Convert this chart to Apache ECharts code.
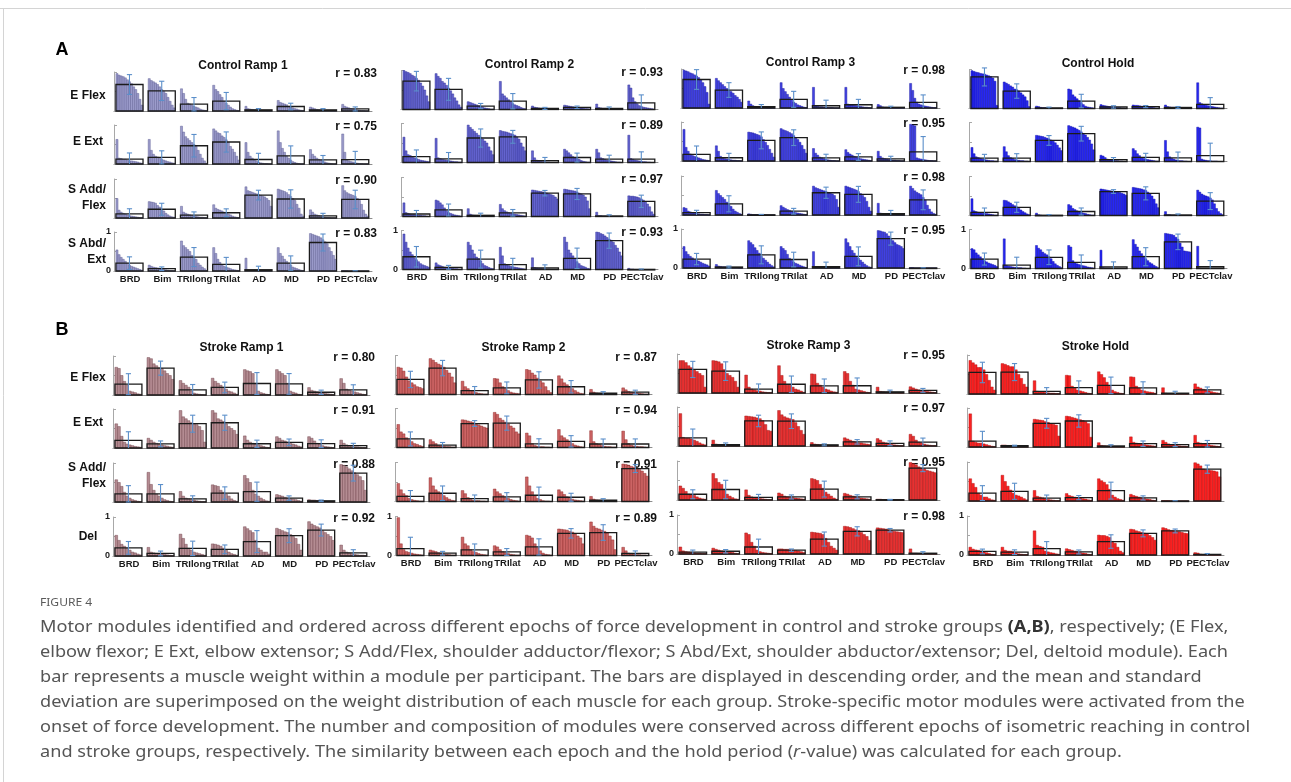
<!DOCTYPE html>
<html>
<head>
<meta charset="utf-8">
<title>Figure 4 – Motor modules</title>
<script src="https://cdn.jsdelivr.net/npm/echarts@6/dist/echarts.min.js"></script>
<style>
  html, body { margin: 0; padding: 0; background: #fff; }
  #chart { width: 1291px; height: 782px; }
</style>
</head>
<body>
<div id="chart"></div>
<script>
// ---------------------------------------------------------------------------
// Labels
// ---------------------------------------------------------------------------
const muscles = ['BRD', 'Bim', 'TRIlong', 'TRIlat', 'AD', 'MD', 'PD', 'PECTclav'];
const epochs = ['Ramp 1', 'Ramp 2', 'Ramp 3', 'Hold'];
const controlModules = ['E Flex', 'E Ext', 'S Add/\nFlex', 'S Abd/\nExt'];
const strokeModules = ['E Flex', 'E Ext', 'S Add/\nFlex', 'Del'];

// similarity of each ramp epoch with the hold period, per module
const rControl = [[0.83, 0.75, 0.90, 0.83], [0.93, 0.89, 0.97, 0.93], [0.98, 0.95, 0.98, 0.95]];
const rStroke = [[0.80, 0.91, 0.88, 0.92], [0.87, 0.94, 0.91, 0.89], [0.95, 0.97, 0.95, 0.98]];

// ---------------------------------------------------------------------------
// Muscle weights per participant (descending), one list per muscle
// ---------------------------------------------------------------------------
// Control – Ramp 1
const cR1_EFlex = [
  [0.96,0.92,0.90,0.88,0.85,0.80,0.75,0.70,0.62,0.55,0.45,0.30,0.15],
  [0.83,0.78,0.75,0.72,0.68,0.62,0.55,0.50,0.45,0.35,0.25,0.15,0.08],
  [0.57,0.45,0.30,0.20,0.18,0.15,0.12,0.10,0.08,0.05,0.03,0.02,0.01],
  [0.66,0.55,0.50,0.42,0.35,0.25,0.20,0.15,0.10,0.06,0.04,0.02,0.01],
  [0.12,0.06,0.05,0.04,0.03,0.03,0.02,0.02,0.01,0.01,0,0,0],
  [0.27,0.22,0.20,0.18,0.16,0.12,0.10,0.08,0.06,0.05,0.03,0.02,0.01],
  [0.10,0.08,0.06,0.04,0.03,0.02,0.02,0.01,0.01,0.01,0,0,0],
  [0.17,0.12,0.10,0.08,0.06,0.05,0.04,0.03,0.02,0.01,0.01,0,0]
];
const cR1_EExt = [
  [0.63,0.15,0.14,0.12,0.12,0.10,0.08,0.08,0.07,0.06,0.05,0.03,0.02],
  [0.63,0.35,0.25,0.20,0.18,0.15,0.12,0.10,0.08,0.06,0.05,0.03,0.02],
  [0.97,0.82,0.70,0.65,0.60,0.55,0.50,0.45,0.35,0.25,0.15,0.08,0.02],
  [0.90,0.85,0.80,0.78,0.72,0.68,0.62,0.55,0.45,0.38,0.30,0.20,0.10],
  [0.55,0.30,0.20,0.15,0.10,0.08,0.05,0.03,0.02,0.01,0.01,0,0],
  [0.85,0.55,0.40,0.30,0.20,0.15,0.10,0.06,0.04,0.02,0.01,0,0],
  [0.37,0.25,0.20,0.15,0.12,0.10,0.08,0.05,0.03,0.02,0.01,0,0],
  [0.77,0.30,0.10,0.08,0.06,0.05,0.03,0.02,0.01,0.01,0,0,0]
];
const cR1_SAddFlex = [
  [0.50,0.20,0.15,0.12,0.10,0.08,0.06,0.05,0.04,0.03,0.02,0.01,0.01],
  [0.42,0.41,0.40,0.38,0.32,0.28,0.22,0.18,0.12,0.08,0.05,0.03,0.02],
  [0.30,0.15,0.12,0.10,0.08,0.06,0.05,0.04,0.03,0.02,0.02,0.01,0],
  [0.34,0.25,0.22,0.20,0.18,0.15,0.12,0.10,0.08,0.05,0.03,0.02,0.01],
  [0.80,0.70,0.68,0.66,0.64,0.62,0.60,0.58,0.56,0.54,0.50,0.45,0.30],
  [0.74,0.72,0.70,0.68,0.65,0.60,0.55,0.50,0.45,0.35,0.25,0.10,0.05],
  [0.21,0.15,0.10,0.08,0.06,0.04,0.03,0.02,0.01,0.01,0,0,0],
  [0.83,0.70,0.65,0.62,0.60,0.58,0.55,0.50,0.45,0.35,0.20,0.10,0.05]
];
const cR1_SAbdExt = [
  [0.54,0.42,0.35,0.30,0.25,0.20,0.15,0.12,0.10,0.08,0.06,0.04,0.02],
  [0.15,0.12,0.10,0.09,0.08,0.06,0.05,0.04,0.03,0.02,0.01,0.01,0],
  [0.77,0.65,0.60,0.55,0.50,0.40,0.35,0.30,0.20,0.15,0.10,0.06,0.02],
  [0.60,0.45,0.30,0.22,0.15,0.12,0.10,0.08,0.06,0.04,0.03,0.02,0.01],
  [0.33,0.03,0.02,0.02,0.01,0.01,0.01,0,0,0,0,0,0],
  [0.60,0.45,0.38,0.30,0.25,0.20,0.15,0.10,0.08,0.06,0.04,0.02,0.01],
  [0.96,0.94,0.92,0.90,0.88,0.85,0.80,0.75,0.70,0.60,0.50,0.40,0.30],
  [0.01,0.01,0.01,0,0,0,0,0,0,0,0,0,0]
];
// Control – Ramp 2
const cR2_EFlex = [
  [1.00,0.97,0.95,0.92,0.88,0.85,0.80,0.75,0.68,0.60,0.50,0.35,0.20],
  [0.92,0.85,0.80,0.72,0.68,0.62,0.55,0.48,0.40,0.30,0.22,0.12,0.06],
  [0.20,0.18,0.16,0.14,0.12,0.10,0.08,0.06,0.04,0.03,0.02,0.01,0.01],
  [0.72,0.40,0.35,0.30,0.25,0.20,0.15,0.12,0.10,0.08,0.05,0.03,0.02],
  [0.09,0.06,0.05,0.04,0.03,0.03,0.02,0.02,0.01,0.01,0.01,0,0],
  [0.11,0.10,0.09,0.08,0.07,0.06,0.05,0.05,0.04,0.03,0.02,0.02,0.01],
  [0.14,0.05,0.04,0.03,0.03,0.02,0.02,0.01,0.01,0.01,0,0,0],
  [0.63,0.55,0.30,0.20,0.15,0.10,0.08,0.06,0.05,0.04,0.03,0.02,0.01]
];
const cR2_EExt = [
  [0.65,0.30,0.20,0.18,0.15,0.12,0.10,0.08,0.06,0.05,0.04,0.03,0.02],
  [0.62,0.12,0.10,0.08,0.07,0.06,0.05,0.04,0.03,0.02,0.02,0.01,0.01],
  [0.96,0.90,0.85,0.80,0.75,0.70,0.65,0.60,0.55,0.50,0.40,0.30,0.20],
  [0.82,0.80,0.79,0.78,0.76,0.74,0.72,0.70,0.65,0.60,0.50,0.40,0.30],
  [0.30,0.12,0.06,0.04,0.03,0.02,0.02,0.01,0.01,0,0,0,0],
  [0.34,0.30,0.25,0.20,0.15,0.12,0.10,0.08,0.05,0.03,0.02,0.01,0.01],
  [0.34,0.25,0.12,0.10,0.08,0.06,0.05,0.04,0.03,0.02,0.01,0.01,0],
  [0.70,0.10,0.08,0.06,0.05,0.04,0.03,0.02,0.02,0.01,0.01,0,0]
];
const cR2_SAddFlex = [
  [0.35,0.10,0.08,0.06,0.05,0.05,0.04,0.03,0.03,0.02,0.02,0.01,0],
  [0.42,0.40,0.35,0.30,0.22,0.15,0.10,0.08,0.06,0.04,0.03,0.02,0.01],
  [0.20,0.06,0.04,0.03,0.02,0.02,0.01,0.01,0.01,0,0,0,0],
  [0.31,0.20,0.15,0.12,0.10,0.08,0.07,0.06,0.05,0.04,0.03,0.02,0.01],
  [0.68,0.67,0.66,0.65,0.64,0.63,0.62,0.60,0.58,0.56,0.54,0.50,0.45],
  [0.70,0.69,0.68,0.67,0.66,0.65,0.63,0.60,0.58,0.55,0.50,0.40,0.20],
  [0.11,0.02,0.02,0.01,0.01,0.01,0.01,0,0,0,0,0,0],
  [0.53,0.52,0.52,0.51,0.50,0.48,0.45,0.42,0.38,0.32,0.25,0.12,0.06]
];
const cR2_SAbdExt = [
  [0.91,0.70,0.55,0.45,0.38,0.30,0.25,0.20,0.15,0.12,0.10,0.08,0.06],
  [0.17,0.12,0.10,0.08,0.06,0.05,0.04,0.03,0.03,0.02,0.02,0.01,0.01],
  [0.70,0.62,0.50,0.40,0.32,0.28,0.22,0.15,0.10,0.08,0.05,0.03,0.02],
  [0.57,0.35,0.15,0.12,0.10,0.08,0.07,0.06,0.05,0.04,0.03,0.02,0.01],
  [0.30,0.05,0.04,0.03,0.03,0.02,0.02,0.01,0.01,0,0,0,0],
  [0.83,0.70,0.50,0.42,0.35,0.28,0.20,0.15,0.10,0.08,0.06,0.03,0.02],
  [0.96,0.95,0.92,0.90,0.86,0.82,0.78,0.75,0.70,0.62,0.55,0.45,0.35],
  [0.03,0.01,0.01,0,0,0,0,0,0,0,0,0,0]
];
// Control – Ramp 3
const cR3_EFlex = [
  [0.97,0.95,0.93,0.90,0.88,0.85,0.82,0.78,0.72,0.65,0.55,0.40,0.10],
  [0.76,0.70,0.65,0.60,0.55,0.50,0.46,0.42,0.38,0.32,0.28,0.22,0.15],
  [0.18,0.10,0.06,0.04,0.03,0.02,0.02,0.01,0.01,0,0,0,0],
  [0.65,0.50,0.42,0.35,0.28,0.22,0.15,0.12,0.08,0.06,0.04,0.02,0.01],
  [0.53,0.05,0.04,0.03,0.03,0.02,0.02,0.01,0.01,0.01,0,0,0],
  [0.53,0.10,0.08,0.08,0.07,0.06,0.05,0.04,0.03,0.02,0.02,0.01,0],
  [0.09,0.06,0.03,0.02,0.02,0.01,0.01,0,0,0,0,0,0],
  [0.63,0.45,0.25,0.15,0.10,0.08,0.06,0.05,0.04,0.03,0.02,0.01,0.01]
];
const cR3_EExt = [
  [0.81,0.35,0.25,0.18,0.14,0.12,0.10,0.08,0.06,0.04,0.03,0.02,0.01],
  [0.39,0.25,0.12,0.08,0.06,0.05,0.04,0.03,0.02,0.02,0.01,0.01,0],
  [0.74,0.73,0.72,0.70,0.68,0.66,0.62,0.55,0.48,0.40,0.30,0.20,0.10],
  [0.83,0.80,0.78,0.76,0.73,0.70,0.65,0.60,0.55,0.48,0.40,0.30,0.20],
  [0.32,0.20,0.15,0.10,0.08,0.06,0.04,0.03,0.02,0.01,0.01,0,0],
  [0.29,0.22,0.18,0.15,0.12,0.10,0.08,0.06,0.05,0.04,0.03,0.02,0.01],
  [0.25,0.12,0.08,0.06,0.05,0.04,0.03,0.02,0.02,0.01,0.01,0,0],
  [0.94,0.92,0.90,0.08,0.06,0.05,0.04,0.03,0.02,0.01,0.01,0,0]
];
const cR3_SAddFlex = [
  [0.19,0.17,0.10,0.08,0.06,0.05,0.04,0.03,0.02,0.02,0.01,0.01,0],
  [0.63,0.55,0.50,0.45,0.40,0.33,0.27,0.22,0.15,0.10,0.07,0.04,0.02],
  [0.03,0.02,0.01,0.01,0.01,0,0,0,0,0,0,0,0],
  [0.24,0.20,0.17,0.14,0.12,0.10,0.08,0.06,0.05,0.04,0.03,0.02,0.01],
  [0.74,0.70,0.68,0.66,0.64,0.62,0.60,0.58,0.56,0.54,0.50,0.40,0.20],
  [0.74,0.72,0.70,0.68,0.66,0.64,0.60,0.55,0.50,0.45,0.35,0.20,0.10],
  [0.30,0.05,0.04,0.03,0.02,0.02,0.01,0.01,0.01,0,0,0,0],
  [0.74,0.68,0.62,0.58,0.55,0.52,0.45,0.38,0.25,0.15,0.08,0.04,0.02]
];
const cR3_SAbdExt = [
  [0.55,0.42,0.35,0.30,0.26,0.22,0.20,0.18,0.15,0.12,0.10,0.08,0.05],
  [0.09,0.05,0.04,0.03,0.03,0.02,0.02,0.02,0.01,0.01,0.01,0,0],
  [0.70,0.65,0.60,0.52,0.45,0.38,0.30,0.25,0.20,0.15,0.10,0.06,0.03],
  [0.55,0.50,0.45,0.35,0.25,0.20,0.15,0.12,0.10,0.07,0.05,0.03,0.01],
  [0.42,0.01,0.01,0.01,0,0,0,0,0,0,0,0,0],
  [0.75,0.65,0.55,0.45,0.38,0.30,0.25,0.20,0.15,0.10,0.06,0.03,0.02],
  [0.96,0.95,0.93,0.92,0.88,0.82,0.76,0.70,0.65,0.60,0.58,0.55,0.50],
  [0.01,0.01,0,0,0,0,0,0,0,0,0,0,0]
];
// Control – Hold
const cH_EFlex = [
  [0.97,0.95,0.93,0.92,0.90,0.89,0.88,0.86,0.84,0.82,0.78,0.70,0.08],
  [0.68,0.65,0.62,0.58,0.55,0.50,0.48,0.45,0.40,0.35,0.30,0.20,0.05],
  [0.06,0.05,0.03,0.02,0.02,0.01,0.01,0.01,0,0,0,0,0],
  [0.50,0.48,0.35,0.30,0.25,0.20,0.15,0.10,0.06,0.04,0.03,0.02,0.01],
  [0.10,0.08,0.07,0.06,0.05,0.04,0.03,0.03,0.02,0.02,0.01,0.01,0],
  [0.09,0.08,0.08,0.07,0.06,0.06,0.05,0.04,0.03,0.03,0.02,0.01,0.01],
  [0.09,0.05,0.04,0.03,0.03,0.03,0.02,0.02,0.02,0.01,0.01,0,0],
  [0.66,0.15,0.12,0.10,0.08,0.07,0.06,0.05,0.04,0.03,0.02,0.01,0.01]
];
const cH_EExt = [
  [0.36,0.20,0.12,0.10,0.08,0.06,0.05,0.04,0.03,0.02,0.02,0.01,0.01],
  [0.38,0.25,0.15,0.10,0.08,0.05,0.04,0.03,0.02,0.02,0.01,0.01,0],
  [0.67,0.66,0.65,0.64,0.62,0.60,0.58,0.55,0.52,0.48,0.42,0.35,0.28],
  [0.92,0.90,0.88,0.86,0.83,0.80,0.76,0.72,0.68,0.62,0.55,0.45,0.30],
  [0.16,0.14,0.10,0.06,0.05,0.04,0.03,0.02,0.02,0.01,0.01,0,0],
  [0.33,0.28,0.20,0.15,0.10,0.08,0.06,0.05,0.04,0.03,0.02,0.01,0.01],
  [0.54,0.25,0.12,0.08,0.06,0.04,0.03,0.02,0.02,0.01,0.01,0,0],
  [0.88,0.86,0.06,0.04,0.03,0.02,0.02,0.01,0.01,0.01,0,0,0]
];
const cH_SAddFlex = [
  [0.43,0.12,0.10,0.08,0.07,0.06,0.05,0.05,0.04,0.03,0.02,0.01,0.01],
  [0.39,0.38,0.35,0.32,0.28,0.25,0.22,0.18,0.14,0.10,0.07,0.04,0.02],
  [0.06,0.02,0.01,0,0,0,0,0,0,0,0,0,0],
  [0.28,0.25,0.18,0.15,0.12,0.10,0.08,0.06,0.05,0.03,0.02,0.01,0.01],
  [0.68,0.67,0.66,0.65,0.64,0.63,0.62,0.61,0.60,0.59,0.57,0.55,0.52],
  [0.72,0.71,0.70,0.69,0.68,0.66,0.64,0.60,0.56,0.50,0.42,0.30,0.20],
  [0.10,0.02,0.02,0.01,0.01,0.01,0.01,0.01,0,0,0,0,0],
  [0.65,0.60,0.55,0.52,0.50,0.48,0.45,0.40,0.30,0.18,0.10,0.05,0.02]
];
const cH_SAbdExt = [
  [0.51,0.48,0.40,0.35,0.30,0.25,0.20,0.17,0.14,0.12,0.10,0.08,0.05],
  [0.76,0.08,0.06,0.05,0.04,0.03,0.03,0.02,0.02,0.01,0.01,0,0],
  [0.59,0.52,0.48,0.42,0.38,0.35,0.30,0.25,0.18,0.12,0.08,0.05,0.02],
  [0.59,0.55,0.20,0.15,0.12,0.10,0.08,0.07,0.06,0.04,0.03,0.02,0.01],
  [0.47,0.02,0.01,0.01,0.01,0,0,0,0,0,0,0,0],
  [0.74,0.62,0.55,0.45,0.38,0.32,0.25,0.20,0.15,0.12,0.08,0.05,0.02],
  [0.90,0.89,0.88,0.87,0.85,0.80,0.75,0.65,0.55,0.45,0.44,0.43,0.42],
  [0.57,0.01,0,0,0,0,0,0,0,0,0,0,0]
];
// Stroke – Ramp 1
const sR1_EFlex = [
  [0.71,0.68,0.50,0.35,0.25,0.10,0.08,0.06,0.03,0.02],
  [0.96,0.93,0.80,0.75,0.70,0.68,0.62,0.55,0.50,0.40],
  [0.37,0.30,0.25,0.20,0.10,0.05,0.03,0.02,0.01,0],
  [0.43,0.35,0.30,0.25,0.20,0.15,0.10,0.08,0.05,0.02],
  [0.65,0.62,0.60,0.55,0.30,0.10,0.06,0.04,0.02,0.01],
  [0.65,0.60,0.55,0.50,0.30,0.10,0.07,0.05,0.02,0.01],
  [0.19,0.12,0.10,0.08,0.06,0.05,0.04,0.03,0.02,0.01],
  [0.42,0.30,0.15,0.12,0.10,0.08,0.06,0.04,0.02,0.01]
];
const sR1_EExt = [
  [0.62,0.55,0.30,0.15,0.10,0.08,0.06,0.04,0.03,0.02],
  [0.25,0.20,0.15,0.12,0.10,0.08,0.06,0.05,0.03,0.02],
  [0.96,0.80,0.75,0.70,0.65,0.62,0.60,0.55,0.45,0.15],
  [0.96,0.90,0.75,0.72,0.68,0.62,0.55,0.50,0.45,0.35],
  [0.31,0.20,0.15,0.12,0.10,0.08,0.06,0.04,0.02,0.01],
  [0.29,0.25,0.20,0.18,0.15,0.12,0.10,0.08,0.05,0.03],
  [0.29,0.25,0.18,0.12,0.10,0.06,0.04,0.03,0.02,0.01],
  [0.20,0.12,0.08,0.06,0.04,0.03,0.03,0.02,0.01,0.01]
];
const sR1_SAddFlex = [
  [0.57,0.50,0.40,0.25,0.15,0.10,0.06,0.04,0.02,0.01],
  [0.76,0.45,0.30,0.20,0.15,0.10,0.06,0.04,0.02,0.01],
  [0.27,0.15,0.10,0.08,0.06,0.05,0.03,0.02,0.01,0.01],
  [0.44,0.42,0.40,0.30,0.25,0.20,0.15,0.08,0.04,0.02],
  [0.68,0.60,0.50,0.30,0.20,0.15,0.10,0.06,0.03,0.02],
  [0.19,0.17,0.15,0.12,0.10,0.08,0.07,0.06,0.04,0.02],
  [0.06,0.05,0.05,0.04,0.04,0.03,0.02,0.01,0.01,0],
  [0.96,0.94,0.90,0.85,0.80,0.75,0.70,0.65,0.55,0.30]
];
const sR1_Del = [
  [0.53,0.40,0.30,0.25,0.20,0.15,0.10,0.08,0.05,0.03],
  [0.22,0.10,0.08,0.06,0.05,0.05,0.04,0.03,0.02,0.01],
  [0.56,0.45,0.30,0.20,0.15,0.10,0.08,0.06,0.04,0.02],
  [0.31,0.30,0.28,0.25,0.20,0.15,0.10,0.06,0.04,0.02],
  [0.75,0.70,0.65,0.60,0.40,0.20,0.15,0.10,0.10,0.05],
  [0.71,0.68,0.65,0.62,0.60,0.55,0.50,0.45,0.30,0.15],
  [0.88,0.82,0.78,0.75,0.72,0.65,0.60,0.55,0.50,0.40],
  [0.28,0.15,0.10,0.08,0.06,0.04,0.03,0.02,0.02,0.01]
];
// Stroke – Ramp 2
const sR2_EFlex = [
  [0.70,0.68,0.60,0.45,0.35,0.30,0.25,0.20,0.18,0.15],
  [0.92,0.88,0.82,0.78,0.75,0.70,0.62,0.55,0.45,0.30],
  [0.34,0.20,0.15,0.10,0.08,0.05,0.03,0.02,0.01,0.01],
  [0.41,0.40,0.30,0.20,0.15,0.10,0.06,0.04,0.03,0.02],
  [0.64,0.62,0.55,0.50,0.42,0.35,0.30,0.20,0.10,0.05],
  [0.48,0.40,0.30,0.25,0.20,0.15,0.10,0.06,0.03,0.02],
  [0.13,0.06,0.04,0.03,0.03,0.02,0.02,0.01,0.01,0],
  [0.17,0.12,0.08,0.06,0.05,0.04,0.03,0.02,0.01,0.01]
];
const sR2_EExt = [
  [0.59,0.40,0.35,0.25,0.20,0.15,0.10,0.08,0.05,0.03],
  [0.20,0.15,0.10,0.05,0.04,0.03,0.02,0.02,0.01,0.01],
  [0.71,0.70,0.68,0.66,0.64,0.60,0.58,0.55,0.52,0.50],
  [0.90,0.85,0.75,0.70,0.65,0.60,0.55,0.50,0.40,0.35],
  [0.37,0.30,0.10,0.05,0.03,0.02,0.02,0.01,0.01,0],
  [0.46,0.30,0.25,0.20,0.15,0.10,0.06,0.04,0.02,0.01],
  [0.43,0.15,0.10,0.08,0.05,0.03,0.02,0.02,0.01,0.01],
  [0.42,0.20,0.10,0.06,0.04,0.03,0.02,0.02,0.01,0]
];
const sR2_SAddFlex = [
  [0.46,0.30,0.20,0.15,0.08,0.05,0.03,0.02,0.01,0.01],
  [0.61,0.40,0.30,0.25,0.20,0.15,0.10,0.06,0.03,0.02],
  [0.28,0.20,0.10,0.05,0.03,0.02,0.02,0.01,0.01,0],
  [0.32,0.25,0.20,0.15,0.10,0.08,0.05,0.03,0.02,0.01],
  [0.63,0.40,0.25,0.15,0.08,0.05,0.02,0.01,0.01,0],
  [0.30,0.25,0.18,0.12,0.08,0.06,0.04,0.03,0.02,0.01],
  [0.13,0.06,0.04,0.03,0.03,0.02,0.02,0.01,0.01,0],
  [0.96,0.95,0.93,0.90,0.88,0.85,0.82,0.78,0.72,0.65]
];
const sR2_Del = [
  [0.97,0.30,0.15,0.10,0.08,0.06,0.04,0.03,0.02,0.01],
  [0.14,0.12,0.10,0.07,0.05,0.04,0.03,0.02,0.01,0.01],
  [0.47,0.30,0.25,0.15,0.10,0.08,0.05,0.03,0.02,0.01],
  [0.25,0.22,0.15,0.10,0.07,0.05,0.03,0.02,0.01,0.01],
  [0.52,0.50,0.45,0.30,0.20,0.12,0.06,0.03,0.02,0.01],
  [0.68,0.67,0.66,0.65,0.62,0.60,0.55,0.50,0.45,0.30],
  [0.86,0.75,0.70,0.68,0.65,0.62,0.58,0.50,0.40,0.15],
  [0.21,0.12,0.06,0.04,0.03,0.02,0.02,0.01,0.01,0]
];
// Stroke – Ramp 3
const sR3_EFlex = [
  [0.83,0.83,0.78,0.70,0.65,0.60,0.55,0.50,0.45,0.15],
  [0.83,0.82,0.80,0.75,0.60,0.50,0.45,0.40,0.30,0.15],
  [0.46,0.15,0.10,0.08,0.06,0.05,0.03,0.02,0.01,0.01],
  [0.70,0.45,0.30,0.20,0.20,0.15,0.10,0.08,0.05,0.02],
  [0.49,0.48,0.25,0.20,0.15,0.10,0.08,0.05,0.03,0.02],
  [0.55,0.50,0.30,0.20,0.10,0.08,0.06,0.04,0.02,0.01],
  [0.15,0.04,0.03,0.02,0.02,0.02,0.01,0.01,0,0],
  [0.16,0.13,0.10,0.08,0.06,0.05,0.04,0.03,0.02,0.01]
];
const sR3_EExt = [
  [0.83,0.22,0.20,0.20,0.18,0.15,0.12,0.08,0.05,0.03],
  [0.15,0.05,0.04,0.03,0.03,0.02,0.02,0.01,0.01,0.01],
  [0.77,0.76,0.75,0.74,0.72,0.70,0.65,0.55,0.40,0.38],
  [0.91,0.80,0.75,0.72,0.70,0.68,0.60,0.50,0.40,0.30],
  [0.09,0.05,0.04,0.03,0.02,0.02,0.02,0.01,0.01,0.01],
  [0.21,0.18,0.15,0.12,0.10,0.08,0.08,0.06,0.05,0.04],
  [0.19,0.15,0.10,0.08,0.06,0.04,0.03,0.02,0.01,0.01],
  [0.30,0.25,0.15,0.10,0.08,0.05,0.03,0.02,0.01,0.01]
];
const sR3_SAddFlex = [
  [0.36,0.30,0.22,0.15,0.14,0.12,0.08,0.05,0.03,0.02],
  [0.68,0.55,0.45,0.40,0.25,0.15,0.10,0.06,0.03,0.02],
  [0.26,0.12,0.08,0.06,0.05,0.04,0.03,0.02,0.01,0.01],
  [0.18,0.15,0.10,0.08,0.07,0.06,0.05,0.04,0.03,0.02],
  [0.55,0.53,0.50,0.40,0.30,0.20,0.15,0.10,0.05,0.02],
  [0.17,0.15,0.12,0.10,0.08,0.06,0.05,0.04,0.03,0.02],
  [0.02,0.02,0.01,0.01,0.01,0.01,0,0,0,0],
  [0.96,0.93,0.90,0.85,0.82,0.80,0.76,0.74,0.72,0.70]
];
const sR3_Del = [
  [0.18,0.08,0.06,0.05,0.04,0.03,0.02,0.02,0.01,0.01],
  [0.15,0.12,0.10,0.08,0.07,0.06,0.05,0.04,0.02,0.01],
  [0.54,0.50,0.30,0.20,0.10,0.06,0.04,0.03,0.02,0.01],
  [0.13,0.13,0.12,0.12,0.11,0.10,0.09,0.08,0.06,0.04],
  [0.56,0.55,0.54,0.53,0.50,0.40,0.30,0.20,0.15,0.10],
  [0.71,0.70,0.68,0.65,0.62,0.60,0.55,0.50,0.45,0.35],
  [0.67,0.66,0.65,0.64,0.62,0.60,0.58,0.57,0.56,0.55],
  [0.13,0.02,0.02,0.01,0.01,0.01,0,0,0,0]
];
// Stroke – Hold
const sH_EFlex = [
  [0.86,0.80,0.75,0.68,0.68,0.62,0.50,0.35,0.18,0.10],
  [0.78,0.76,0.73,0.70,0.70,0.62,0.50,0.40,0.25,0.18],
  [0.34,0.07,0.06,0.05,0.04,0.03,0.02,0.02,0.01,0.01],
  [0.48,0.47,0.20,0.15,0.10,0.08,0.06,0.04,0.02,0.01],
  [0.57,0.50,0.42,0.30,0.20,0.10,0.06,0.04,0.02,0.01],
  [0.44,0.43,0.20,0.15,0.10,0.08,0.06,0.05,0.04,0.02],
  [0.16,0.02,0.01,0.01,0.01,0,0,0,0,0],
  [0.26,0.18,0.15,0.12,0.10,0.08,0.06,0.04,0.03,0.02]
];
const sH_EExt = [
  [0.85,0.15,0.12,0.10,0.10,0.08,0.06,0.04,0.02,0.01],
  [0.05,0.05,0.04,0.04,0.04,0.03,0.03,0.03,0.02,0.02],
  [0.71,0.70,0.69,0.68,0.65,0.63,0.60,0.58,0.56,0.28],
  [0.79,0.78,0.76,0.74,0.72,0.70,0.68,0.65,0.60,0.25],
  [0.11,0.04,0.03,0.02,0.02,0.02,0.01,0.01,0.01,0],
  [0.26,0.12,0.10,0.09,0.08,0.06,0.05,0.04,0.03,0.02],
  [0.17,0.12,0.08,0.06,0.05,0.04,0.03,0.02,0.02,0.01],
  [0.30,0.12,0.10,0.08,0.08,0.06,0.04,0.03,0.02,0.01]
];
const sH_SAddFlex = [
  [0.57,0.45,0.35,0.20,0.15,0.10,0.10,0.06,0.03,0.02],
  [0.66,0.50,0.38,0.28,0.20,0.15,0.13,0.10,0.06,0.03],
  [0.27,0.12,0.10,0.08,0.06,0.04,0.03,0.02,0.01,0.01],
  [0.19,0.14,0.12,0.10,0.09,0.08,0.06,0.05,0.03,0.02],
  [0.57,0.52,0.48,0.42,0.30,0.15,0.10,0.06,0.04,0.02],
  [0.17,0.14,0.12,0.10,0.08,0.06,0.05,0.04,0.02,0.01],
  [0.01,0.01,0.01,0,0,0,0,0,0,0],
  [0.98,0.95,0.90,0.82,0.80,0.79,0.78,0.77,0.75,0.62]
];
const sH_Del = [
  [0.20,0.15,0.13,0.12,0.10,0.08,0.06,0.04,0.02,0.01],
  [0.20,0.12,0.10,0.10,0.08,0.05,0.03,0.02,0.01,0.01],
  [0.62,0.25,0.22,0.20,0.10,0.08,0.06,0.05,0.03,0.02],
  [0.16,0.14,0.12,0.10,0.08,0.06,0.05,0.04,0.02,0.01],
  [0.51,0.50,0.50,0.48,0.45,0.35,0.30,0.20,0.10,0.06],
  [0.66,0.65,0.62,0.60,0.58,0.56,0.55,0.50,0.45,0.38],
  [0.70,0.68,0.65,0.63,0.62,0.60,0.60,0.58,0.56,0.55],
  [0.06,0.05,0.02,0.01,0.01,0.01,0,0,0,0]
];

// ---------------------------------------------------------------------------
// Layout and styling
// ---------------------------------------------------------------------------
const FONT = '"Liberation Sans", Arial, Helvetica, sans-serif';
const CAPTION_FONT = '"Noto Sans", "Open Sans", sans-serif';
const BOX_L = 0.06;   // mean box starts this far into each muscle's band
const BOX_W = 0.84;   // mean box width as a fraction of the band
const PLOT_H = 39;    // pixel height of the 0..1 weight range

const groups = [
  {
    name: 'Control', letter: 'A', letterXY: [62, 50], titleOffset: 45,
    modules: controlModules, r: rControl,
    weights: [
      [cR1_EFlex, cR1_EExt, cR1_SAddFlex, cR1_SAbdExt],
      [cR2_EFlex, cR2_EExt, cR2_SAddFlex, cR2_SAbdExt],
      [cR3_EFlex, cR3_EExt, cR3_SAddFlex, cR3_SAbdExt],
      [cH_EFlex, cH_EExt, cH_SAddFlex, cH_SAbdExt]
    ],
    fills: ['#9c9ccb', '#6464cf', '#4242e2', '#2828f4'],
    edges: ['#5a5a92', '#2c2c96', '#1c1ca2', '#1010a8'],
    lefts: [114, 401, 681, 969], rights: [372, 658, 940, 1227],
    bases: [111, 164, 218, 271], colDy: [0, -1.5, -3, -2.5],
    labelY: [96, 142, 198, 252]
  },
  {
    name: 'Stroke', letter: 'B', letterXY: [62, 330], titleOffset: 47,
    modules: strokeModules, r: rStroke,
    weights: [
      [sR1_EFlex, sR1_EExt, sR1_SAddFlex, sR1_Del],
      [sR2_EFlex, sR2_EExt, sR2_SAddFlex, sR2_Del],
      [sR3_EFlex, sR3_EExt, sR3_SAddFlex, sR3_Del],
      [sH_EFlex, sH_EExt, sH_SAddFlex, sH_Del]
    ],
    fills: ['#b48c92', '#cc6464', '#e63232', '#fa2222'],
    edges: ['#70404a', '#8c2424', '#a01414', '#b01010'],
    lefts: [113, 395, 677, 967], rights: [370, 652, 940, 1224],
    bases: [395, 448, 502, 556], colDy: [0, -0.5, -2, -1],
    labelY: [378, 423, 476, 537]
  }
];

function stats(list) {
  const n = list.length;
  const mean = list.reduce((a, b) => a + b, 0) / n;
  const v = list.reduce((a, b) => a + (b - mean) * (b - mean), 0) / (n - 1);
  return [mean, Math.sqrt(v)];
}

// bars: one thin rect per participant inside the muscle's band
function makeBarRenderer(fill, edge) {
  return function (params, api) {
    const cat = api.value(0), rank = api.value(1), v = api.value(2), n = api.value(3);
    const band = api.size([1, 0])[0];
    const base = api.coord([cat, 0]);
    const top = api.coord([cat, v]);
    const w = band * BOX_W / n;
    const x0 = base[0] - band / 2 + band * BOX_L + rank * w;
    return {
      type: 'rect',
      shape: { x: x0, y: top[1], width: w, height: base[1] - top[1] },
      style: { fill: fill, stroke: edge, lineWidth: 0.45 }
    };
  };
}

// outlined box whose height is the group mean
function renderMeanBox(params, api) {
  const cat = api.value(0), m = api.value(1);
  const band = api.size([1, 0])[0];
  const base = api.coord([cat, 0]);
  const top = api.coord([cat, m]);
  const x0 = base[0] - band / 2 + band * BOX_L;
  return {
    type: 'rect',
    shape: { x: x0, y: top[1], width: band * BOX_W, height: Math.max(base[1] - top[1], 0.6) },
    style: { fill: 'none', stroke: '#1b1b1b', lineWidth: 1.3 }
  };
}

// mean ± SD whisker at the centre of the box
function renderErrorBar(params, api) {
  const cat = api.value(0), m = api.value(1), sd = api.value(2);
  const band = api.size([1, 0])[0];
  const base = api.coord([cat, 0]);
  const xc = base[0] - band / 2 + band * (BOX_L + BOX_W / 2);
  const hi = api.coord([cat, m + sd])[1];
  const loVal = m - sd;
  const lo = api.coord([cat, Math.max(loVal, 0)])[1];
  const style = { stroke: '#5b8fca', lineWidth: 1.1 };
  const children = [
    { type: 'line', shape: { x1: xc, y1: hi, x2: xc, y2: lo }, style: style },
    { type: 'line', shape: { x1: xc - 2.6, y1: hi, x2: xc + 2.6, y2: hi }, style: style }
  ];
  if (loVal > 0) {
    children.push({ type: 'line', shape: { x1: xc - 2.6, y1: lo, x2: xc + 2.6, y2: lo }, style: style });
  }
  return { type: 'group', children: children };
}

function txt(x, y, text, extra) {
  return {
    type: 'text', x: x, y: y, silent: true,
    style: Object.assign({
      text: text, fill: '#111', font: 'bold 12px ' + FONT,
      textAlign: 'center', textVerticalAlign: 'middle'
    }, extra || {})
  };
}

const grids = [], xAxes = [], yAxes = [], series = [], graphics = [];

groups.forEach(g => {
  graphics.push(txt(g.letterXY[0], g.letterXY[1], g.letter, { font: 'bold 18px ' + FONT, fill: '#000' }));

  g.modules.forEach((mod, row) => {
    const lines = mod.split('\n');
    if (lines.length > 1) {
      graphics.push(txt(106, g.labelY[row], mod, { textAlign: 'right', lineHeight: 16 }));
    } else {
      graphics.push(txt(88, g.labelY[row], mod));
    }
  });

  epochs.forEach((ep, col) => {
    const L = g.lefts[col], R = g.rights[col], dy = g.colDy[col];
    graphics.push(txt((L + R) / 2, g.bases[0] + dy - g.titleOffset, g.name + ' ' + ep));

    g.modules.forEach((mod, row) => {
      const k = grids.length;
      const base = g.bases[row] + dy;
      const bottomRow = row === g.modules.length - 1;
      grids.push({ left: L, top: base - PLOT_H, width: R - L, height: PLOT_H });
      xAxes.push({
        gridIndex: k, type: 'category', data: muscles, boundaryGap: true,
        axisLine: { show: true, lineStyle: { color: '#8c8c8c', width: 1 } },
        axisTick: { show: false },
        splitLine: { show: false },
        axisLabel: {
          show: bottomRow, interval: 0, margin: 3,
          fontFamily: FONT, fontWeight: 'bold', fontSize: 9.5, color: '#1a1a1a'
        }
      });
      yAxes.push({
        gridIndex: k, type: 'value', min: 0, max: 1, interval: 0.5,
        axisLine: { show: true, lineStyle: { color: '#a8a8a8', width: 1 } },
        axisTick: { show: true, inside: true, length: 3, lineStyle: { color: '#a8a8a8' } },
        splitLine: { show: false },
        axisLabel: {
          show: bottomRow, margin: 3,
          formatter: v => (v === 0.5 ? '' : String(v)),
          fontFamily: FONT, fontWeight: 'bold', fontSize: 9, color: '#1a1a1a'
        }
      });

      const set = g.weights[col][row];
      const barData = [], meanData = [], errData = [];
      set.forEach((list, i) => {
        list.forEach((v, j) => barData.push([i, j, v, list.length]));
        const s = stats(list);
        meanData.push([i, s[0]]);
        errData.push([i, s[0], s[1]]);
      });

      series.push({
        type: 'custom', xAxisIndex: k, yAxisIndex: k, z: 2,
        renderItem: makeBarRenderer(g.fills[col], g.edges[col]),
        encode: { x: 0, y: 2 }, data: barData, silent: true
      });
      series.push({
        type: 'custom', xAxisIndex: k, yAxisIndex: k, z: 3,
        renderItem: renderMeanBox, encode: { x: 0, y: 1 }, data: meanData, silent: true
      });
      series.push({
        type: 'custom', xAxisIndex: k, yAxisIndex: k, z: 4,
        renderItem: renderErrorBar, encode: { x: 0, y: 1 }, data: errData, silent: true
      });

      if (col < g.r.length) {
        graphics.push(txt(R + 5, base - 37, 'r = ' + g.r[col][row].toFixed(2), { textAlign: 'right' }));
      }
    });
  });
});

// frame lines of the figure box
graphics.push({ type: 'line', silent: true, shape: { x1: 0, y1: 8.5, x2: 1291, y2: 8.5 }, style: { stroke: '#d4d4d4', lineWidth: 1 } });
graphics.push({ type: 'line', silent: true, shape: { x1: 3.5, y1: 8.5, x2: 3.5, y2: 782 }, style: { stroke: '#d4d4d4', lineWidth: 1 } });

// caption
const captionLines = [
  'Motor modules identified and ordered across different epochs of force development in control and stroke groups {b|(A,B)}, respectively; (E Flex,',
  'elbow flexor; E Ext, elbow extensor; S Add/Flex, shoulder adductor/flexor; S Abd/Ext, shoulder abductor/extensor; Del, deltoid module). Each',
  'bar represents a muscle weight within a module per participant. The bars are displayed in descending order, and the mean and standard',
  'deviation are superimposed on the weight distribution of each muscle for each group. Stroke-specific motor modules were activated from the',
  'onset of force development. The number and composition of modules were conserved across different epochs of isometric reaching in control',
  'and stroke groups, respectively. The similarity between each epoch and the hold period ({i|r}-value) was calculated for each group.'
];
const CAP_SIZE = 16.5;
const CAP_STRETCH = 1.1;   // the caption face runs wider than the installed sans
const CAP_COLOR = '#555555';
graphics.push({
  type: 'text', x: 40, y: 603, silent: true, scaleX: 1.05,
  style: { text: 'FIGURE 4', font: '11.5px ' + CAPTION_FONT, fill: '#5a5a5a', textAlign: 'left', textVerticalAlign: 'middle' }
});
captionLines.forEach((line, i) => {
  graphics.push({
    type: 'text', x: 40, y: 627 + i * 25, silent: true, scaleX: CAP_STRETCH,
    style: {
      text: line, fill: CAP_COLOR, font: CAP_SIZE + 'px ' + CAPTION_FONT,
      textAlign: 'left', textVerticalAlign: 'middle',
      rich: {
        b: { fontWeight: 'bold', fontSize: CAP_SIZE, fontFamily: CAPTION_FONT, fill: '#333' },
        i: { fontStyle: 'italic', fontSize: CAP_SIZE, fontFamily: CAPTION_FONT, fill: CAP_COLOR }
      }
    }
  });
});

const chart = echarts.init(document.getElementById('chart'), null, { renderer: 'canvas', width: 1291, height: 782 });
chart.setOption({
  backgroundColor: '#ffffff',
  animation: false,
  grid: grids,
  xAxis: xAxes,
  yAxis: yAxes,
  series: series,
  graphic: { elements: graphics }
});
</script>
</body>
</html>
